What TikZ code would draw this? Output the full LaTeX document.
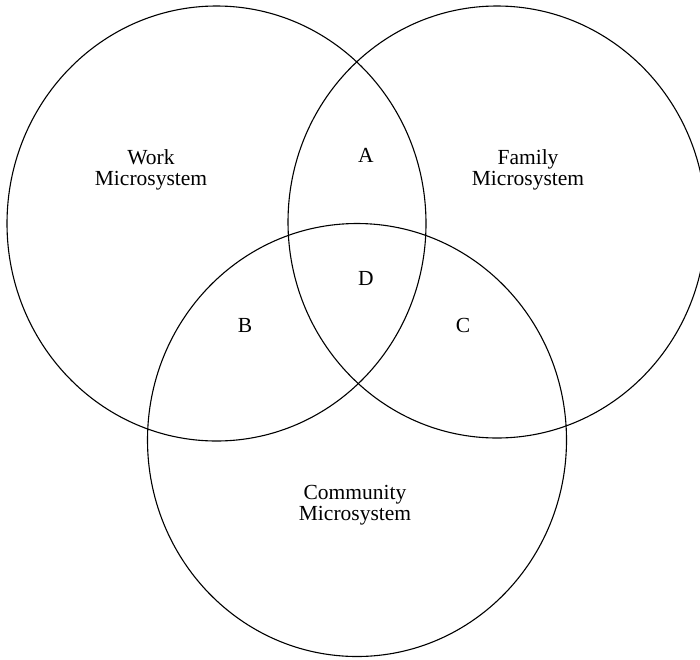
\documentclass[tikz,border=0pt]{standalone}
\usepackage{fontspec}
\setmainfont{Liberation Serif}
\usepackage{tikz}
\usetikzlibrary{calc}
\tikzset{
    sphere/.style={line width=1.1pt,black},
    label text/.style={align=center,font=\fontsize{21.5}{20.5}\selectfont,inner sep=0pt}
}

\begin{document}
\begin{tikzpicture}[x=1pt,y=-1pt]
    \useasboundingbox (0,0) rectangle (700,659);
    \clip (0,0) rectangle (700,659);
    \coordinate (W) at (216.5,223.5);
    \coordinate (F) at (497,222);
    \coordinate (C) at (357,440);

    \draw[sphere] (W) ellipse [x radius=209.5, y radius=217.5];
    \draw[sphere] (F) ellipse [x radius=209, y radius=216];
    \draw[sphere] (C) ellipse [x radius=209.5, y radius=216.5];

    \node[label text] (work) at (151,170) {Work\\Microsystem};
    \node[label text] (family) at (528,170) {Family\\Microsystem};
    \node[label text] (community) at (355,505) {Community\\Microsystem};
    \node[label text] (a) at (366,155) {A};
    \node[label text] (d) at (366,278) {D};
    \node[label text] (b) at (245,325) {B};
    \node[label text] (c) at (463,325) {C};
   \end{tikzpicture}
\end{document}
